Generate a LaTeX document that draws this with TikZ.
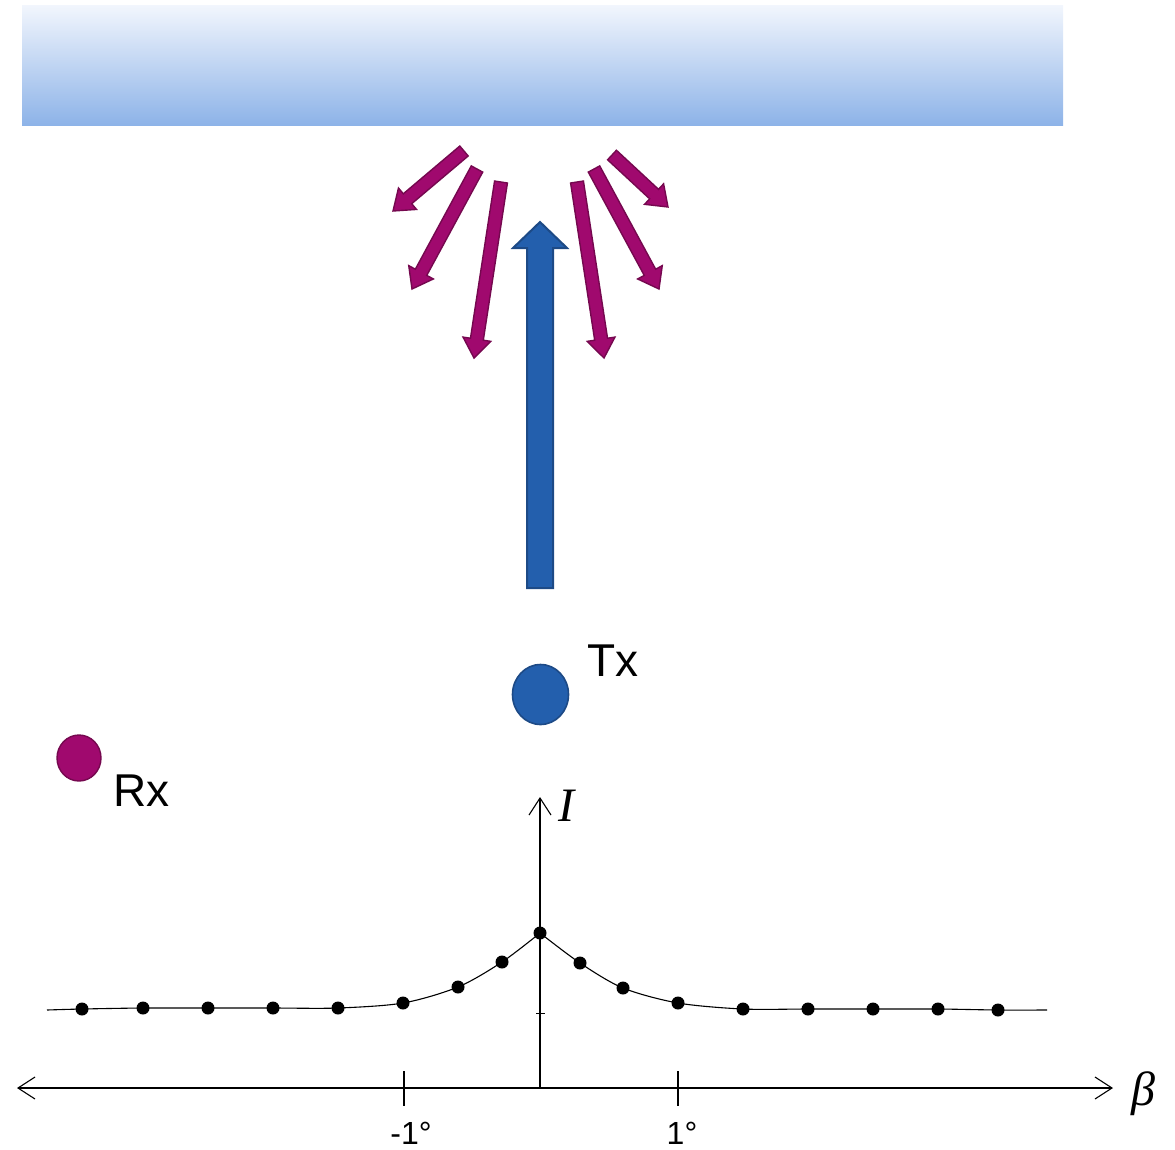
\documentclass[tikz,border=0pt]{standalone}
\usepackage{fontspec}
\setmainfont{Liberation Sans}
\newfontfamily\timesf{Liberation Serif}
\usetikzlibrary{calc,arrows.meta}
\definecolor{barTop}{HTML}{F2F6FD}
\definecolor{barBot}{HTML}{8DB3E8}
\definecolor{txBlue}{HTML}{235FAD}
\definecolor{txEdge}{HTML}{1D4A86}
\definecolor{rxMag}{HTML}{A0096E}
\definecolor{rxEdge}{HTML}{75084F}
\tikzset{
  magarrow/.style={fill=rxMag, draw=rxEdge, line width=1.4pt, line join=miter},
  bluearrow/.style={fill=txBlue, draw=txEdge, line width=2pt, line join=miter},
  axisline/.style={line width=1.1pt, draw=black},
  axistip/.style={-{Straight Barb[length=17pt,width=22pt,line width=1.1pt]}},
  datadot/.style={circle, fill=black, inner sep=0pt, minimum size=13pt},
  curveline/.style={line width=1.1pt, black},
  lbl/.style={inner sep=0pt, font=\fontsize{46}{50}\selectfont},
  ticklbl/.style={inner sep=0pt, font=\fontsize{32}{34}\selectfont},
  mathlbl/.style={inner sep=0pt, font=\fontsize{48}{52}\selectfont\timesf\itshape}
}
\newcommand\blockarrow[6]{%
  \draw[#6] let \p1=($(#2)-(#1)$), \n1={atan2(\y1,\x1)}, \n2={veclen(\x1,\y1)-#5} in
    ($(#1)+({\n1+90}:#3pt)$)
    -- ($(#1)+({\n1}:\n2)+({\n1+90}:#3pt)$)
    -- ($(#1)+({\n1}:\n2)+({\n1+90}:#4pt)$)
    -- (#2)
    -- ($(#1)+({\n1}:\n2)+({\n1-90}:#4pt)$)
    -- ($(#1)+({\n1}:\n2)+({\n1-90}:#3pt)$)
    -- ($(#1)+({\n1-90}:#3pt)$) -- cycle;}
\begin{document}
\begin{tikzpicture}[x=1pt,y=-1pt]
\useasboundingbox (0,0) rectangle (1175,1149);
% reflecting surface
\shade[top color=barTop, bottom color=barBot] (22,5) rectangle (1063,125);

% coordinates of reflected arrows (tail, tip)
\coordinate (m1t) at (464,151); \coordinate (m1h) at (393,211);
\coordinate (m2t) at (477,169); \coordinate (m2h) at (412,289);
\coordinate (m3t) at (501,182); \coordinate (m3h) at (474,358);
\coordinate (m4t) at (577,182); \coordinate (m4h) at (604,358);
\coordinate (m5t) at (594,169); \coordinate (m5h) at (659,289);
\coordinate (m6t) at (612,155); \coordinate (m6h) at (668,207);
\blockarrow{m1t}{m1h}{6.5}{14}{19}{magarrow}
\blockarrow{m2t}{m2h}{6.5}{14}{19}{magarrow}
\blockarrow{m3t}{m3h}{6.5}{14}{19}{magarrow}
\blockarrow{m4t}{m4h}{6.5}{14}{19}{magarrow}
\blockarrow{m5t}{m5h}{6.5}{14}{19}{magarrow}
\blockarrow{m6t}{m6h}{6.5}{14}{19}{magarrow}

% transmitted beam
\coordinate (bt) at (540,588); \coordinate (bh) at (540,222);
\blockarrow{bt}{bh}{13}{27}{26}{bluearrow}

% Tx and Rx
\draw[fill=txBlue, draw=txEdge, line width=1.6pt] (540.5,694.5) ellipse [x radius=28, y radius=30];
\node[lbl, anchor=base west] (tx) at (587,676) {Tx};
\draw[fill=rxMag, draw=rxEdge, line width=1.4pt] (79,758) ellipse [x radius=22, y radius=23];
\node[lbl, anchor=base west] (rx) at (113,806) {Rx};

% axes
\coordinate (origin) at (540,1088);
\coordinate (ytop) at (540,797);
\coordinate (xleft) at (17,1088);
\coordinate (xright) at (1113,1088);
\draw[axisline, axistip] (origin) -- (ytop);
\draw[axisline, axistip] (540,1088) -- (xleft);
\draw[axisline, axistip] (540,1088) -- (xright);
\draw[axisline] (404,1071) -- (404,1106);
\draw[axisline] (678,1071) -- (678,1106);
\draw[line width=0.9pt] (536,1013) -- (545,1013);
\node[mathlbl] (ilab) at (566,806) {I};
\node[mathlbl] (blab) at (1143,1094) {β};
\node[ticklbl, anchor=base] (m1) at (411,1144) {-1°};
\node[ticklbl, anchor=base] (p1) at (682,1144) {1°};

% curve
\draw[curveline] plot[smooth, tension=0.5] coordinates {(47,1010) (82,1009) (143,1008) (208,1008) (273,1008) (338,1008) (403,1003) (458,987) (502,962) (540,933)};
\draw[curveline] plot[smooth, tension=0.5] coordinates {(540,933) (580,963) (623,988) (678,1003) (743,1009) (808,1009) (873,1009) (938,1009) (998,1010) (1047,1010)};
\foreach \px/\py [count=\i] in {82/1009,143/1008,208/1008,273/1008,338/1008,403/1003,458/987,502/962,540/933,580/963,623/988,678/1003,743/1009,808/1009,873/1009,938/1009,998/1010}
  \node[datadot] (d\i) at (\px,\py) {};
\end{tikzpicture}
\end{document}
